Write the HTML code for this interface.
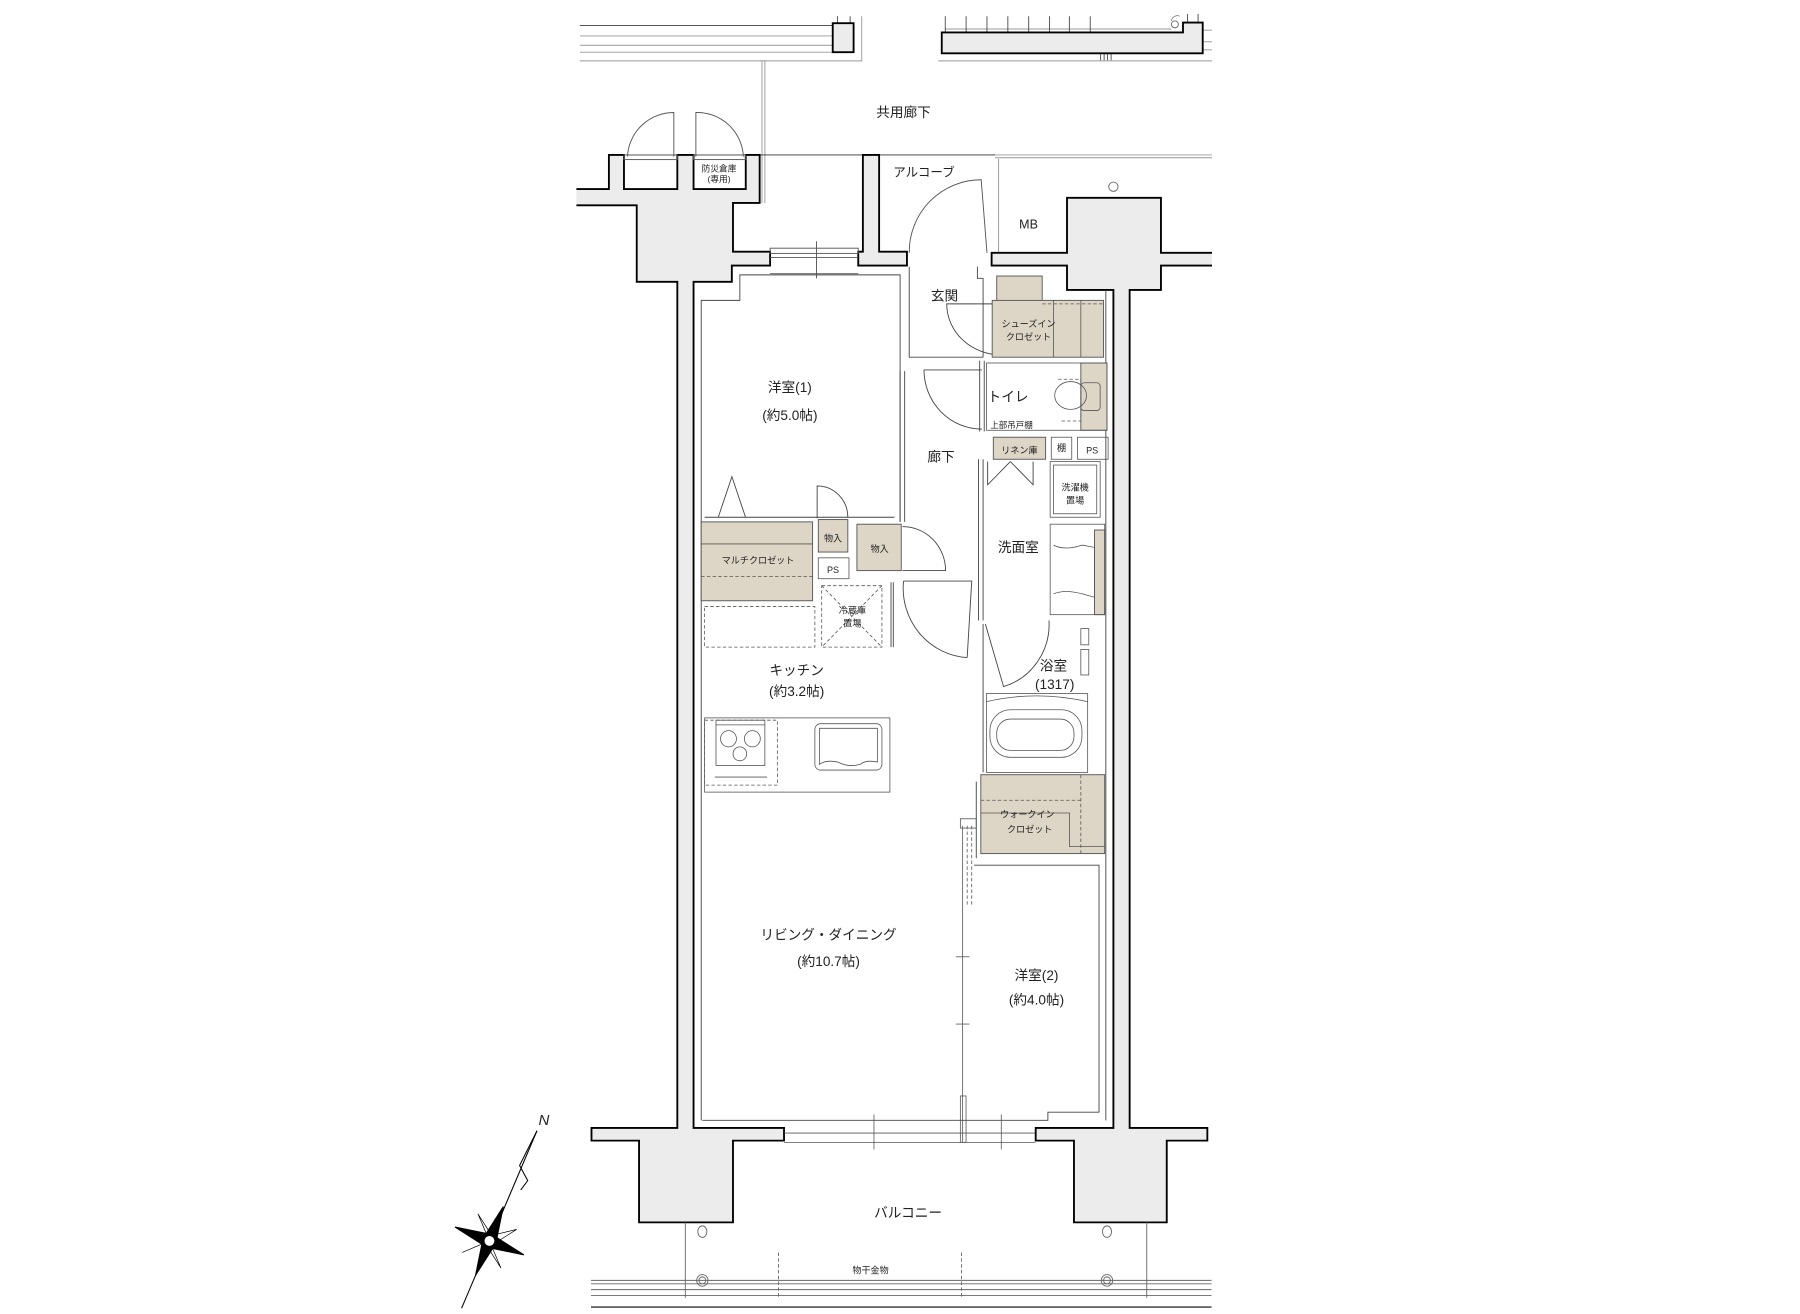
<!DOCTYPE html>
<html><head><meta charset="utf-8"><style>
html,body{margin:0;padding:0;background:#fff}
svg{display:block}
text{font-family:"Liberation Sans","Noto Sans CJK JP",sans-serif;fill:#222}
</style></head><body>
<svg width="1800" height="1314" viewBox="0 0 1552 1133" preserveAspectRatio="none" xmlns="http://www.w3.org/2000/svg">
<rect width="1552" height="1133" fill="#fff"/>
<g stroke="#999" stroke-width="0.8" fill="none">
<line x1="500" y1="22" x2="718" y2="22" stroke="#555"/><line x1="500" y1="31" x2="718" y2="31"/><line x1="500" y1="39" x2="718" y2="39"/><line x1="500" y1="45" x2="718" y2="45"/>
<polyline points="500,52.5 743,52.5 743,14"/>
<polyline points="809,52.5 1045,52.5"/>
<line x1="1037" y1="26" x2="1045" y2="26"/><line x1="1037" y1="36" x2="1045" y2="36"/><line x1="1037" y1="43" x2="1045" y2="43"/>
<line x1="657" y1="52" x2="657" y2="175"/><line x1="659.5" y1="52" x2="659.5" y2="175"/>
<line x1="858" y1="133.6" x2="1045" y2="133.6"/><line x1="858" y1="136" x2="1045" y2="136"/>
<polyline points="861,218 861,137"/>
<line x1="815" y1="25" x2="1010" y2="25"/>
</g>
<g stroke="#333" stroke-width="0.7">
<line x1="722" y1="14" x2="722" y2="20"/><line x1="733" y1="14" x2="733" y2="20"/>
<line x1="815" y1="14" x2="815" y2="28"/><line x1="833" y1="14" x2="833" y2="28"/><line x1="851" y1="14" x2="851" y2="28"/><line x1="869" y1="14" x2="869" y2="28"/><line x1="887" y1="14" x2="887" y2="28"/><line x1="905" y1="14" x2="905" y2="28"/><line x1="922" y1="14" x2="922" y2="28"/><line x1="940" y1="14" x2="940" y2="28"/>
<line x1="1024" y1="12" x2="1024" y2="19"/><line x1="1033" y1="12" x2="1033" y2="19"/>
<line x1="949" y1="46" x2="949" y2="52"/><line x1="952" y1="46" x2="952" y2="52"/><line x1="955" y1="46" x2="955" y2="52"/><line x1="958" y1="46" x2="958" y2="52"/>
</g>
<circle cx="1013" cy="21" r="3" fill="none" stroke="#555" stroke-width="0.7"/>
<path d="M1010,18 A5,5 0 0 1 1017,14" fill="none" stroke="#555" stroke-width="0.6"/>
<rect x="718" y="20" width="18" height="25" fill="#ececec" stroke="#000" stroke-width="1.6"/>
<path d="M812,28 L1020,28 L1020,19.5 L1037,19.5 L1037,46 L812,46 Z" fill="#ececec" stroke="#000" stroke-width="1.6"/>
<line x1="525" y1="133.6" x2="858" y2="133.6" stroke="#333" stroke-width="0.8"/>

<g fill="#ececec" stroke="#000" stroke-width="1.6" stroke-linejoin="miter">
<path d="M497,163 L525,163 L525,133.6 L538,133.6 L538,163 L584,163 L584,133.6 L598,133.6 L598,163 L643,163 L643,133.6 L655,133.6 L655,175 L632,175 L632,217 L664,217 L664,229 L631,229 L631,243 L598,243 L598,972.6 L676,972.6 L676,983.5 L632,983.5 L632,1054 L551,1054 L551,983.5 L510,983.5 L510,972.6 L584,972.6 L584,243 L549,243 L549,177 L497,177"/>
<path d="M744,133.6 L758,133.6 L758,217 L782,217 L782,229 L740,229 L740,217 L744,217 Z"/>
<path d="M1045,218 L1001,218 L1001,170.6 L920,170.6 L920,218 L855,218 L855,229 L920,229 L920,250 L960,250 L960,972.6 L893,972.6 L893,983.5 L926,983.5 L926,1054 L1006,1054 L1006,983.5 L1041,983.5 L1041,972.6 L974,972.6 L974,250 L1001,250 L1001,229 L1045,229"/>
</g>
<circle cx="960" cy="161" r="4" fill="none" stroke="#666" stroke-width="0.8"/>
<g fill="none" stroke="#555" stroke-width="0.8">
<rect x="664" y="214" width="76" height="4.5"/><line x1="664" y1="222" x2="740" y2="222"/><line x1="664" y1="236" x2="740" y2="236"/>
<line x1="704" y1="208" x2="704" y2="240"/>
<path d="M541,135 A40,40 0 0 1 581,97 L581,135"/>
<path d="M600,135 L600,97 A40,40 0 0 1 641,135"/>
<rect x="538" y="133.6" width="46" height="4"/><rect x="598" y="133.6" width="45" height="4"/>
<path d="M784,218 A62,62 0 0 1 846,155 L851,218"/>
</g>

<g transform="matrix(0.98 0 0 1 6.8 0)">
<g fill="none" stroke="#444" stroke-width="0.8">
<polyline points="610,966 610,259 644,259 644,237 785,237 785,450"/>
<polyline points="793,230 793,308 858,308"/>
<polyline points="853,230 853,240 858,240 858,308"/>
<line x1="785" y1="320" x2="785" y2="450" /><line x1="789" y1="320" x2="789" y2="450"/>
<line x1="613" y1="446" x2="780" y2="446"/>
<polyline points="625,446 637,411 649,446"/>
<path d="M874,262 L826,262 A48,44 0 0 0 874,306"/>
<path d="M806,319 L857,319 M806,319 A51,51 0 0 0 857,370"/>
<line x1="855" y1="311" x2="855" y2="372"/><line x1="859" y1="311" x2="859" y2="372"/>
<line x1="966" y1="250" x2="966" y2="966"/>
<line x1="854" y1="396" x2="854" y2="535"/><line x1="858" y1="396" x2="858" y2="535"/>
<line x1="858" y1="538" x2="858" y2="666"/>
<line x1="852" y1="674" x2="852" y2="740"/>
<path d="M862,398 L862,418 Q872,408 882,398 M902,398 L902,418 Q892,408 882,398"/>
<polyline points="850,746 960,746 960,959 915,959 915,966 611,966"/>
<path d="M788,501 L848,501 L844,567 M788,501 A60,60 0 0 0 844,567"/>
<line x1="777" y1="502" x2="777" y2="558"/><line x1="779" y1="502" x2="779" y2="558"/>
<path d="M787,492 L825,492 A38,38 0 0 0 787,454"/>
<path d="M712,447 L712,419 A27,27 0 0 1 739,446"/>
<path d="M860,538 L876,592 A56,56 0 0 0 916,535"/>
</g>
<g fill="#ddd6c6" stroke="#555" stroke-width="0.8">
<rect x="870" y="238" width="40" height="22"/>
<rect x="866" y="259" width="98" height="49"/>
<rect x="944" y="313" width="23" height="58"/>
<rect x="867" y="377" width="46" height="19"/>
<rect x="610" y="450" width="98" height="68"/>
<rect x="713" y="448" width="26" height="28"/>
<rect x="747" y="452" width="39" height="40"/>
<rect x="956" y="457" width="9" height="73"/>
<rect x="856" y="668" width="109" height="68"/>
</g>
<g fill="none" stroke="#555" stroke-width="0.7">
<line x1="920" y1="259" x2="920" y2="308"/><line x1="944" y1="259" x2="944" y2="308"/>
<line x1="910" y1="262" x2="964" y2="262" stroke-dasharray="3,2"/>
<rect x="861" y="313" width="106" height="58"/>
<path d="M924,327 L944,327 L944,363 L926,363" stroke-dasharray="3,2"/>
<ellipse cx="935" cy="341" rx="14" ry="12"/>
<rect x="944" y="330" width="17" height="24" rx="3"/>
<rect x="918" y="377" width="18" height="19"/><rect x="941" y="377" width="27" height="19"/>
<rect x="917" y="398" width="44" height="48"/><rect x="920" y="401" width="38" height="42"/>
<rect x="917" y="452" width="48" height="78"/>
<path d="M920,470 Q930,475 945,470 L956,472 L956,515 L945,512 Q930,508 920,512"/>
<line x1="610" y1="469" x2="708" y2="469"/>
<line x1="610" y1="497" x2="708" y2="497" stroke-dasharray="3,2"/>
<rect x="713" y="481" width="27" height="18"/>
<rect x="716" y="505" width="53" height="53" stroke-dasharray="3,2"/>
<path d="M716,505 L769,558 M769,505 L716,558" stroke-dasharray="3,2"/>
<rect x="613" y="523" width="97" height="35" stroke-dasharray="3,2"/>
<rect x="613" y="619" width="163" height="64"/>
<rect x="613" y="621" width="64" height="56" stroke-dasharray="3,2"/>
<rect x="623" y="621" width="43" height="39"/><line x1="623" y1="625" x2="666" y2="625"/>
<circle cx="634" cy="637" r="7"/><circle cx="655" cy="637" r="7"/><circle cx="644" cy="650" r="6"/>
<line x1="622" y1="670" x2="668" y2="670"/>
<rect x="710" y="624" width="59" height="40" rx="5"/>
<path d="M714,628 L765,628 L765,657 Q755,655 750,659 Q740,662 730,657 Q720,655 714,659 Z"/>
<rect x="861" y="598" width="89" height="68"/>
<path d="M861,605 Q905,595 950,605"/>
<rect x="864" y="612" width="81" height="41" rx="18"/>
<rect x="870" y="620" width="68" height="27" rx="12"/>
<rect x="944" y="542" width="7" height="14"/><rect x="944" y="560" width="7" height="22"/>
<line x1="856" y1="690" x2="945" y2="690" stroke-dasharray="3,2"/>
<line x1="944" y1="668" x2="944" y2="736" stroke-dasharray="3,2"/>
<polyline points="856,701 934,701 934,730 965,730"/>
<line x1="840" y1="712" x2="840" y2="985"/><line x1="844" y1="712" x2="844" y2="780" stroke-dasharray="3,2"/><line x1="848" y1="712" x2="848" y2="780" stroke-dasharray="3,2"/>
<rect x="838" y="706" width="14" height="8"/>
<line x1="834" y1="825" x2="846" y2="825"/><line x1="834" y1="883" x2="846" y2="883"/>
<rect x="838" y="945" width="5" height="40"/>
<line x1="683" y1="977" x2="904" y2="977"/><line x1="683" y1="985" x2="904" y2="985"/>
<line x1="762" y1="961" x2="762" y2="991"/><line x1="874" y1="961" x2="874" y2="991"/>
</g>
<g fill="none" stroke="#666" stroke-width="0.8">
<line x1="596" y1="1054" x2="596" y2="1119"/><line x1="1002" y1="1054" x2="1002" y2="1119"/>
<line x1="678" y1="1080" x2="678" y2="1119" stroke-dasharray="3,2"/><line x1="839" y1="1080" x2="839" y2="1119" stroke-dasharray="3,2"/>
<line x1="513" y1="1104" x2="1059" y2="1104"/><line x1="513" y1="1107" x2="1059" y2="1107"/>
<line x1="513" y1="1112" x2="1059" y2="1112"/><line x1="513" y1="1117" x2="1059" y2="1117"/>
<line x1="513" y1="1127" x2="1059" y2="1127" stroke="#333" stroke-width="1.2"/>
<ellipse cx="611" cy="1062" rx="4" ry="5"/><ellipse cx="967" cy="1062" rx="4" ry="5"/>
<circle cx="611" cy="1104" r="5"/><circle cx="611" cy="1104" r="3"/>
<circle cx="967" cy="1104" r="5"/><circle cx="967" cy="1104" r="3"/>
</g>
</g>
<g stroke="#000" stroke-width="0.9">
<line x1="463" y1="975" x2="398" y2="1128"/>
<polyline points="463,975 448,1005 455,1018 449,1026" fill="none"/>
<g transform="translate(422,1070) rotate(22)">
<polygon points="0,-32 5,-5 32,0 5,5 0,32 -5,5 -32,0 -5,-5" fill="#000"/>
<polygon points="-3,-3 18,-18 3,3 18,18 -3,3 -18,18 3,-3 -18,-18" fill="none" stroke-width="0.6"/>
<circle r="5" fill="#fff" stroke-width="1.5"/>
</g>
</g>
<text x="469" y="970" font-size="13" font-style="italic" font-family="Liberation Serif,serif" text-anchor="middle">N</text>
<g font-size="12" text-anchor="middle" transform="matrix(0.98 0 0 1 6.8 0)">
<text x="788" y="101">共用廊下</text>
<text x="806" y="152" font-size="11">アルコーブ</text>
<text x="898" y="197" font-size="11">MB</text>
<text x="824" y="259" font-size="12">玄関</text>
<text x="898" y="282" font-size="8">シューズイン</text>
<text x="898" y="293" font-size="8">クロゼット</text>
<text x="880" y="346">トイレ</text>
<text x="883" y="369" font-size="7.5">上部吊戸棚</text>
<text x="890" y="391" font-size="8">リネン庫</text>
<text x="927" y="389" font-size="8">棚</text>
<text x="954" y="391" font-size="8">PS</text>
<text x="821" y="398">廊下</text>
<text x="939" y="423" font-size="8">洗濯機</text>
<text x="939" y="434" font-size="8">置場</text>
<text x="889" y="476">洗面室</text>
<text x="688" y="338">洋室(1)</text>
<text x="688" y="362">(約5.0帖)</text>
<text x="726" y="467" font-size="8">物入</text>
<text x="726" y="494" font-size="8">PS</text>
<text x="767" y="476" font-size="8">物入</text>
<text x="660" y="486" font-size="8">マルチクロゼット</text>
<text x="743" y="529" font-size="8">冷蔵庫</text>
<text x="743" y="540" font-size="8">置場</text>
<text x="694" y="582">キッチン</text>
<text x="694" y="600">(約3.2帖)</text>
<text x="920" y="578">浴室</text>
<text x="921" y="594">(1317)</text>
<text x="897" y="705" font-size="8">ウォークイン</text>
<text x="899" y="718" font-size="8">クロゼット</text>
<text x="722" y="810">リビング・ダイニング</text>
<text x="722" y="833">(約10.7帖)</text>
<text x="905" y="845">洋室(2)</text>
<text x="905" y="866">(約4.0帖)</text>
<text x="792" y="1050">バルコニー</text>
<text x="759" y="1098" font-size="8">物干金物</text>
</g>
<g font-size="7.5" text-anchor="middle">
<text x="620" y="148">防災倉庫</text>
<text x="620" y="157">(専用)</text>
</g>
</svg>
</body></html>
